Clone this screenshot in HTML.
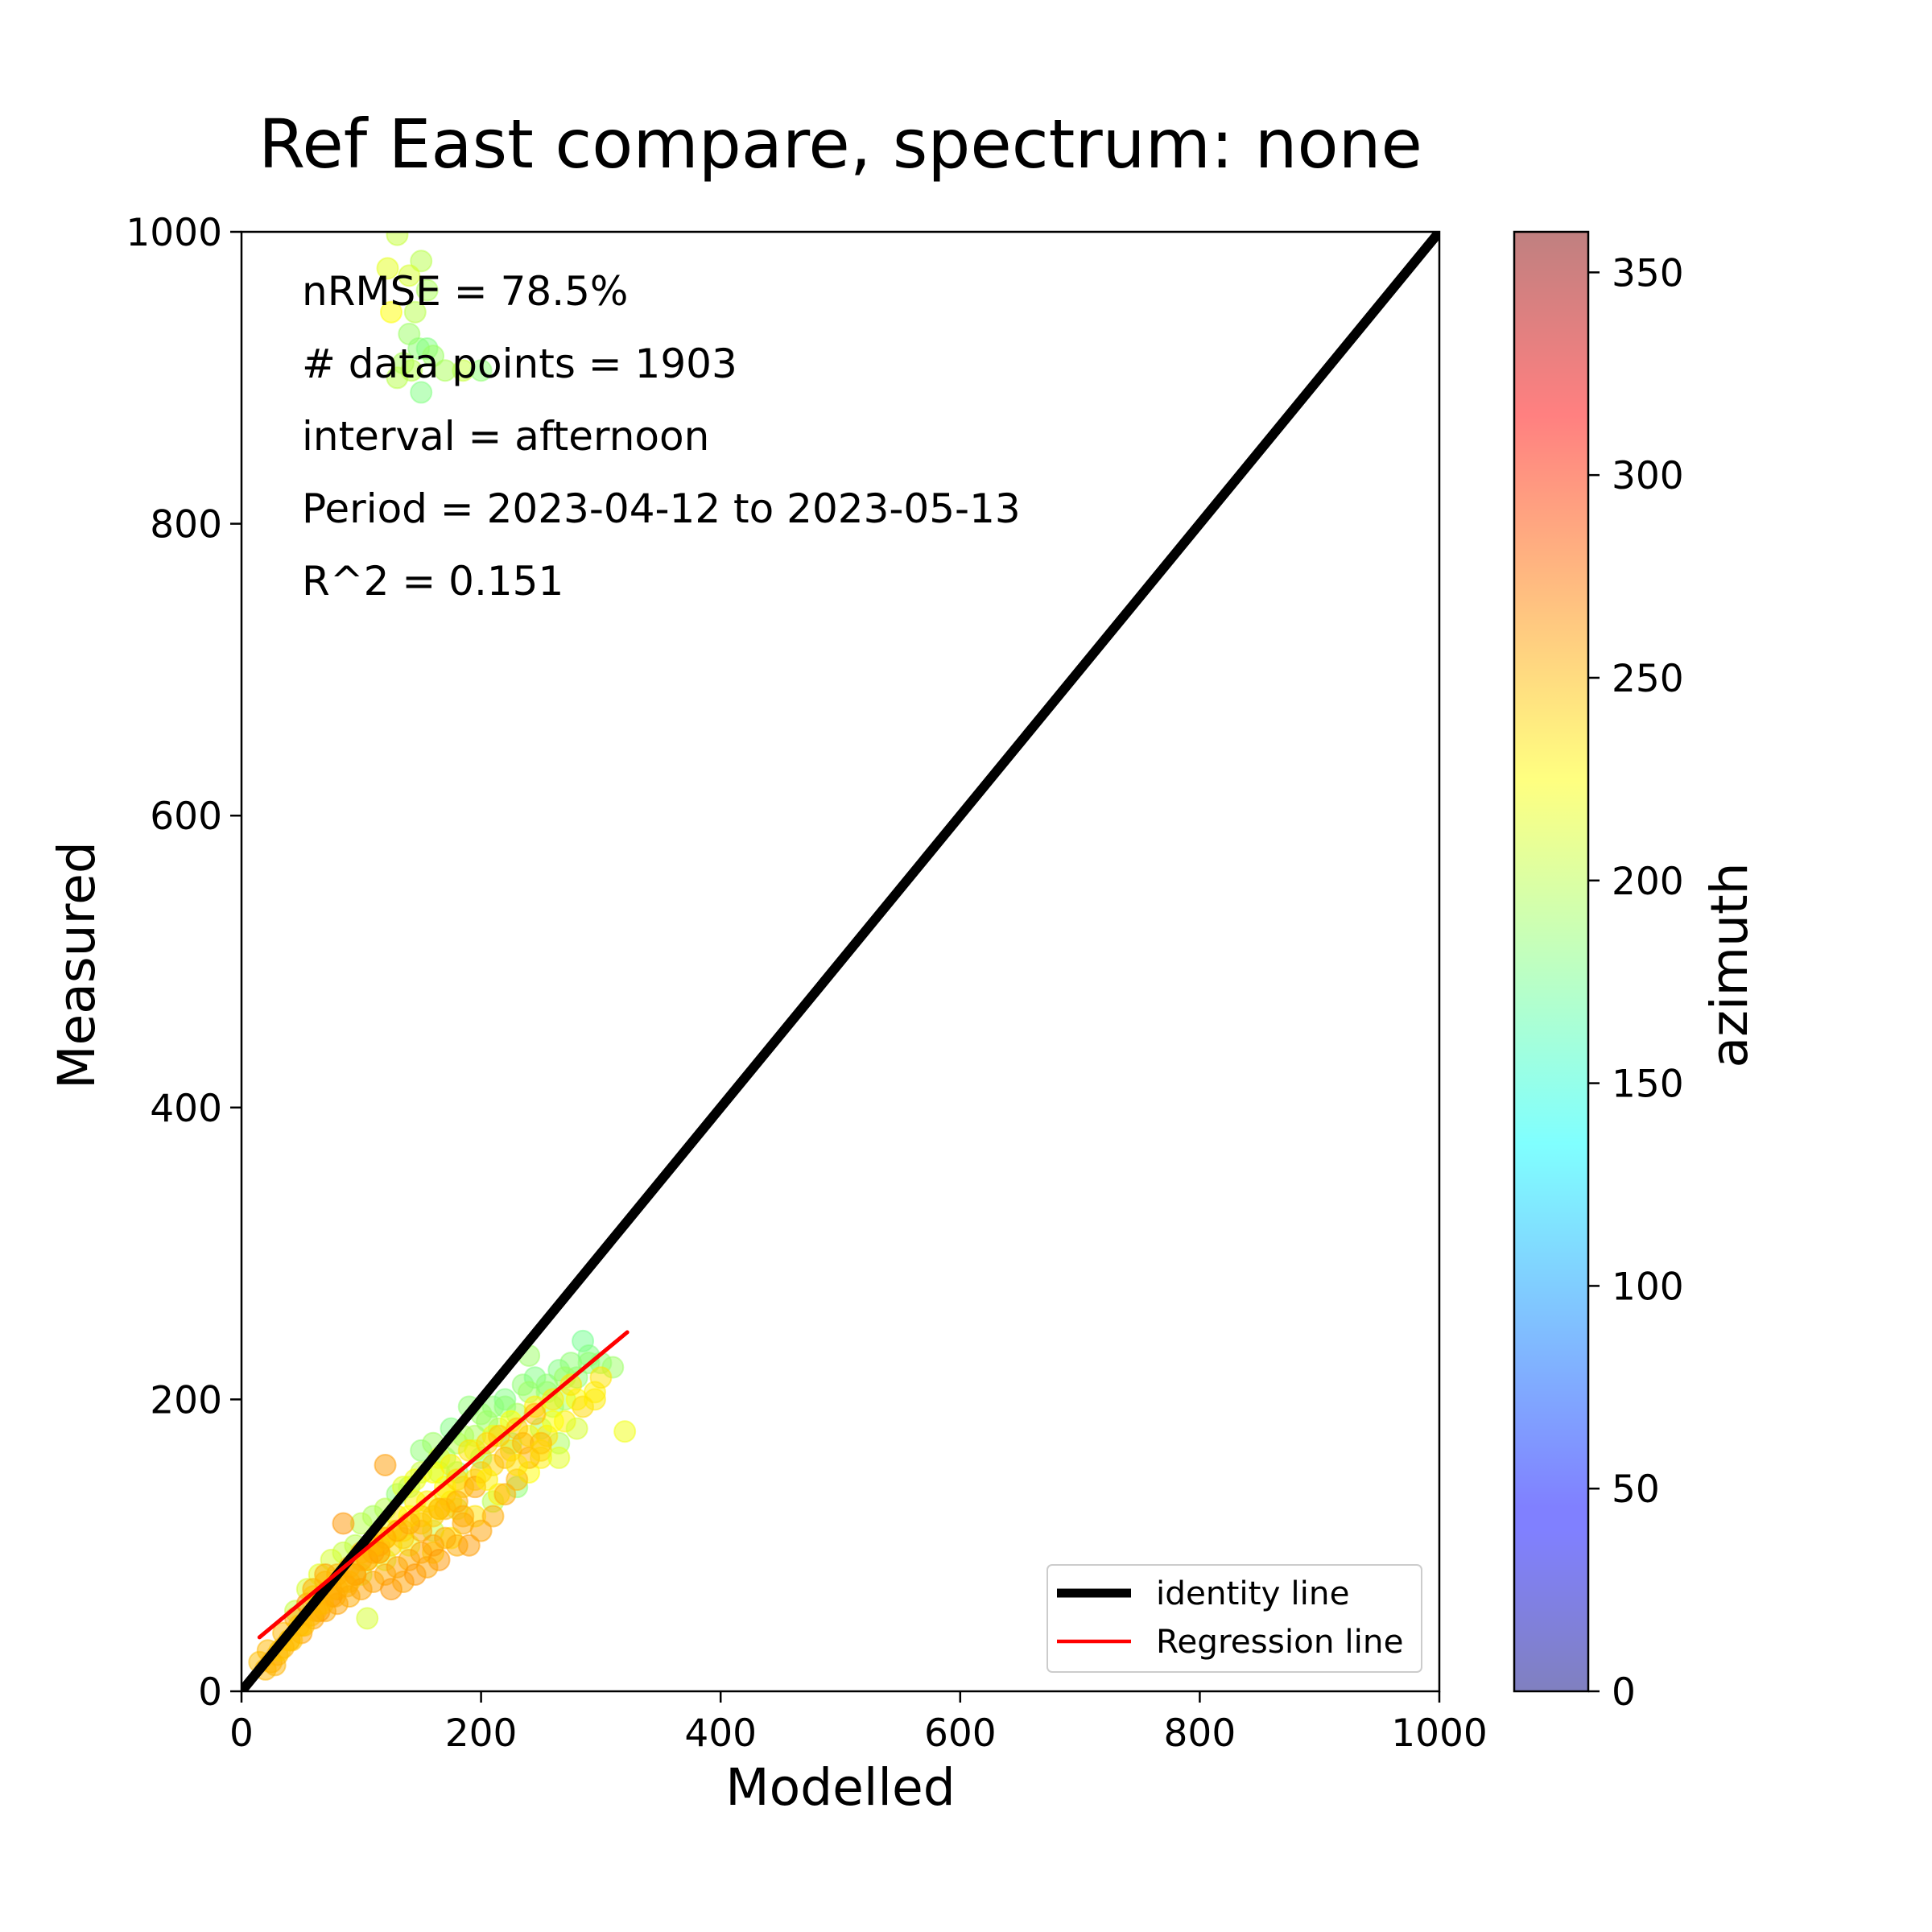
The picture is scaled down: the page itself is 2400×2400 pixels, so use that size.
<!DOCTYPE html>
<html><head><meta charset="utf-8"><style>
html,body{margin:0;padding:0;background:#fff;}
svg{display:block;font-family:"DejaVu Sans","Liberation Sans",sans-serif;}
</style></head><body>
<svg id="fig" width="2400" height="2400" viewBox="0 0 2400 2400" xmlns="http://www.w3.org/2000/svg">
<defs>
<linearGradient id="jetgrad" x1="0" y1="1" x2="0" y2="0">
<stop offset="0" stop-color="rgb(0,0,128)" stop-opacity="0.5"/>
<stop offset="0.11" stop-color="rgb(0,0,255)" stop-opacity="0.5"/>
<stop offset="0.125" stop-color="rgb(0,0,255)" stop-opacity="0.5"/>
<stop offset="0.375" stop-color="rgb(0,255,255)" stop-opacity="0.5"/>
<stop offset="0.5" stop-color="rgb(128,255,128)" stop-opacity="0.5"/>
<stop offset="0.625" stop-color="rgb(255,255,0)" stop-opacity="0.5"/>
<stop offset="0.875" stop-color="rgb(255,0,0)" stop-opacity="0.5"/>
<stop offset="1" stop-color="rgb(128,0,0)" stop-opacity="0.5"/>
</linearGradient>
<clipPath id="plotclip"><rect x="300" y="288" width="1488" height="1813"/></clipPath>
</defs>
<text x="1044" y="208" font-size="83.5" text-anchor="middle">Ref East compare, spectrum: none</text>
<g id="points" clip-path="url(#plotclip)"></g>
<g id="lines" clip-path="url(#plotclip)"></g>
<rect x="300" y="288" width="1488" height="1813" fill="none" stroke="#000" stroke-width="2.5"/>
<g id="xticks"></g>
<g id="yticks"></g>
<text x="1044" y="2242" font-size="63" text-anchor="middle">Modelled</text>
<text transform="translate(117,1199) rotate(-90)" font-size="63" text-anchor="middle">Measured</text>
<g font-size="50">
<text x="375" y="379">nRMSE = 78.5%</text>
<text x="375" y="469"># data points = 1903</text>
<text x="375" y="559">interval = afternoon</text>
<text x="375" y="649">Period = 2023-04-12 to 2023-05-13</text>
<text x="375" y="739">R^2 = 0.151</text>
</g>
<g>
<rect x="1301" y="1944" width="465" height="133" rx="6" fill="#fff" fill-opacity="0.8" stroke="#ccc" stroke-width="2"/>
<line x1="1313" y1="1979" x2="1405" y2="1979" stroke="#000" stroke-width="11"/>
<text x="1436" y="1993" font-size="40.5">identity line</text>
<line x1="1313" y1="2039" x2="1405" y2="2039" stroke="red" stroke-width="4.5"/>
<text x="1436" y="2053" font-size="40.5">Regression line</text>
</g>
<rect x="1881" y="288" width="92" height="1813" fill="url(#jetgrad)" stroke="#000" stroke-width="2.5"/>
<g id="cticks"></g>
<text transform="translate(2170,1199) rotate(-90)" font-size="63" text-anchor="middle">azimuth</text>
</svg>
<script>
const modelled = [130,122,150,140,155,125,145,140,148,155,135,160,142,185,200,150,130,170,
150,160,175,190,200,210,220,235,245,240,255,265,275,285,290,300,310,280,270,260,230,215,195,180,165,140,130,120,110,100,95,85,75,65,55,45,180,200,225,250,265,230,210,180,160,140,120,100,105,320,
280,295,270,255,240,225,210,195,185,175,165,150,135,125,115,105,160,175,195,215,240,250,130,145,170,90,80,260,
30,25,40,50,60,70,80,90,100,110,120,130,140,150,160,170,180,190,200,210,220,230,240,250,120,85,70,60,45,35,20,55,95,110,125,135,145,75,65,100,115,150,165,185,155,15,22,28,35,
170,185,205,220,240,255,270,290,150,165,195,210,225,245,260,275,300,135,145,160,175,190,205,215,230,245,125,140,155,170,180,200,220,235,110,120,135,150,165,180,195,60,70,80,90,100,110,120,130,140,50,65,75,85,95,105,115,40,48,58,68,78,88,32,42,52,62,205,230,250,185,170,160,285,295,265,280];
const measured = [998,975,980,970,960,945,945,930,920,920,910,915,905,905,905,890,900,905,
165,170,180,195,190,195,200,210,215,230,205,220,225,240,230,225,222,215,200,195,190,180,175,170,150,140,135,125,120,115,100,95,90,80,70,55,150,160,170,180,170,140,130,125,110,100,90,80,50,178,
200,205,185,175,175,165,155,145,140,130,125,115,105,100,95,90,95,105,120,135,150,160,120,130,140,75,70,185,
25,20,35,40,50,55,60,65,70,75,80,85,90,95,100,105,100,100,110,120,135,145,160,170,155,115,80,70,50,30,15,60,80,95,70,75,80,65,55,90,100,110,90,115,85,20,28,18,40,
160,175,185,195,205,210,215,225,150,160,165,175,185,195,200,210,215,140,145,150,155,165,170,175,180,190,110,120,130,135,145,150,160,170,100,105,110,120,125,130,140,65,75,80,85,95,100,105,110,115,45,60,70,75,80,90,95,35,45,52,60,65,72,28,35,45,55,145,155,165,120,125,120,195,200,160,180];
const azimuth = [205,215,200,210,195,225,200,190,185,180,195,190,200,205,185,180,200,195,
185,190,180,185,190,185,180,185,180,190,190,180,185,175,180,185,190,185,195,190,195,200,195,200,195,190,185,200,195,200,200,205,210,215,210,205,185,180,185,190,195,185,200,210,205,215,210,205,210,220,
225,230,230,235,230,235,240,235,240,235,240,240,245,240,245,240,235,230,235,230,225,230,235,230,225,240,245,225,
252,255,255,258,258,255,258,255,258,258,255,258,255,258,258,255,255,260,258,255,255,252,252,252,260,262,258,255,258,255,250,262,262,258,262,258,262,262,262,255,255,255,262,255,258,248,250,252,250,
190,195,190,185,190,185,190,185,205,210,215,220,225,230,232,235,235,215,220,225,230,235,240,245,245,250,220,225,230,235,240,245,250,252,230,235,240,245,250,255,258,245,250,252,250,248,250,252,255,255,240,245,250,252,255,255,258,245,248,250,252,255,255,245,248,250,252,230,235,240,255,250,245,238,232,215,210];
const axisTicks = [0,200,400,600,800,1000];
const cbarTicks = [0,50,100,150,200,250,300,350];
const identity = [0,1000];
const regX = [15,322];
const regY = [37,246];

const NS = "http://www.w3.org/2000/svg";
const X0=300,X1=1788,Y0=2101,Y1=288;
function xs(v){return X0+(v/1000)*(X1-X0);}
function ys(v){return Y0-(v/1000)*(Y0-Y1);}
function cs(v){return Y0-(v/360)*(Y0-Y1);}
function jet(t){
  const c=u=>Math.max(0,Math.min(1,u));
  const r=c(1.5-Math.abs(4*t-3)),g=c(1.5-Math.abs(4*t-2)),b=c(1.5-Math.abs(4*t-1));
  return `rgb(${Math.round(r*255)},${Math.round(g*255)},${Math.round(b*255)})`;
}
function mk(tag,attrs,parent){const e=document.createElementNS(NS,tag);for(const k in attrs)e.setAttribute(k,attrs[k]);parent.appendChild(e);return e;}

const pts=document.getElementById('points');
for(let i=0;i<modelled.length;i++){
  const col=jet(azimuth[i]/360);
  const c=mk('circle',{cx:xs(modelled[i]),cy:ys(measured[i]),r:13,fill:col,'fill-opacity':0.5,stroke:col,'stroke-opacity':0.5,'stroke-width':2},pts);
  
  
}
const ln=document.getElementById('lines');
const idl=mk('line',{x1:xs(identity[0]),y1:ys(identity[0]),x2:xs(identity[1]),y2:ys(identity[1]),stroke:'#000','stroke-width':12},ln);


const rl=mk('line',{x1:xs(regX[0]),y1:ys(regY[0]),x2:xs(regX[1]),y2:ys(regY[1]),stroke:'red','stroke-width':5,'stroke-linecap':'round'},ln);



const xg=document.getElementById('xticks'),yg=document.getElementById('yticks'),cg=document.getElementById('cticks');
axisTicks.forEach(v=>{
  const t=mk('line',{x1:xs(v),y1:Y0,x2:xs(v),y2:Y0+14,stroke:'#000','stroke-width':2.5},xg);
  
  
  const l=mk('text',{x:xs(v),y:2169,'font-size':47,'text-anchor':'middle'},xg);
  l.textContent=v;
  
  
  const t2=mk('line',{x1:X0-14,y1:ys(v),x2:X0,y2:ys(v),stroke:'#000','stroke-width':2.5},yg);
  
  
  const l2=mk('text',{x:X0-24,y:ys(v)+17,'font-size':47,'text-anchor':'end'},yg);
  l2.textContent=v;
  
  
});
cbarTicks.forEach(v=>{
  const t=mk('line',{x1:1973,y1:cs(v),x2:1987,y2:cs(v),stroke:'#000','stroke-width':2.5},cg);
  
  
  const l=mk('text',{x:2002,y:cs(v)+17,'font-size':47},cg);
  l.textContent=v;
  
  
});
</script>
</body></html>
